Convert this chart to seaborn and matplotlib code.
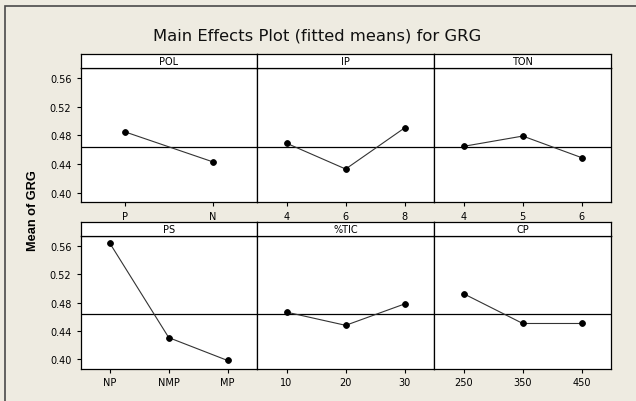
import matplotlib
matplotlib.use("Agg")
import matplotlib.pyplot as plt
from matplotlib.patches import Rectangle
import seaborn as sns
import pandas as pd

# Fitted means of GRG at each factor level
factors = ["POL", "IP", "TON", "PS", "%TIC", "CP"]
pol_levels = ["P", "N"]
pol_means = [0.485, 0.443]
ip_levels = ["4", "6", "8"]
ip_means = [0.469, 0.433, 0.4905]
ton_levels = ["4", "5", "6"]
ton_means = [0.4647, 0.479, 0.4488]
ps_levels = ["NP", "NMP", "MP"]
ps_means = [0.5636, 0.4308, 0.3986]
tic_levels = ["10", "20", "30"]
tic_means = [0.4667, 0.4481, 0.4783]
cp_levels = ["250", "350", "450"]
cp_means = [0.4925, 0.4507, 0.4507]
grand_mean = 0.4636
y_ticks = [0.40, 0.44, 0.48, 0.52, 0.56]

levels = [pol_levels, ip_levels, ton_levels, ps_levels, tic_levels, cp_levels]
means = [pol_means, ip_means, ton_means, ps_means, tic_means, cp_means]

rows = []
for f, lv, mv in zip(factors, levels, means):
    for l, m in zip(lv, mv):
        rows.append({"factor": f, "level": l, "mean": m})
df = pd.DataFrame(rows)

sns.set_style("white")
plt.rcParams["font.family"] = ["DejaVu Sans"]
plt.rcParams["text.color"] = "black"

W, H = 636, 402
bg = "#EEEBE1"
fig = plt.figure(figsize=(W / 100, H / 100), dpi=100, facecolor=bg)


def frac(x, y_top, w, h):
    return [x / W, 1 - (y_top + h) / H, w / W, h / H]


col_x = [80.5, 257.0, 434.3]
col_w = [176.5, 177.3, 177.0]
row_top = [69.3, 237.3]
row_h = [134.0, 132.7]
strip_h = 14.0
ylim = (0.3866, 0.5735)

for i, (f, lv) in enumerate(zip(factors, levels)):
    r, c = divmod(i, 3)
    ax = fig.add_axes(frac(col_x[c], row_top[r], col_w[c], row_h[r]))
    ax.set_facecolor("white")
    sub = df[df["factor"] == f]
    sns.pointplot(data=sub, x="level", y="mean", order=lv, ax=ax,
                  color="black", errorbar=None, markersize=4.2,
                  linewidth=0.8)
    for ln in ax.lines:
        ln.set_color("#333333")
        ln.set_markerfacecolor("black")
        ln.set_markeredgecolor("black")
    ax.axhline(grand_mean, color="black", linewidth=0.9, zorder=1)
    ax.set_xlim(-0.5, len(lv) - 0.5)
    ax.set_ylim(*ylim)
    ax.set_yticks(y_ticks)
    ax.set_xlabel("")
    ax.set_ylabel("")
    for s in ax.spines.values():
        s.set_color("black")
        s.set_linewidth(0.9)
    ax.tick_params(axis="x", direction="out", length=3, width=0.8,
                   pad=3, labelsize=7, colors="black", bottom=True)
    if c == 0:
        ax.set_yticklabels([f"{t:.2f}" for t in y_ticks])
        ax.tick_params(axis="y", direction="out", length=3, width=0.8,
                       pad=3.5, labelsize=7, colors="black", left=True)
    else:
        ax.tick_params(axis="y", left=False, labelleft=False)

    sax = fig.add_axes(frac(col_x[c], row_top[r] - strip_h, col_w[c], strip_h))
    sax.set_facecolor("white")
    sax.set_xticks([])
    sax.set_yticks([])
    for s in sax.spines.values():
        s.set_color("black")
        s.set_linewidth(0.9)
    sax.text(0.5, 0.5, f, ha="center", va="center", fontsize=7,
             color="black", transform=sax.transAxes)

fig.text(317.5 / W, 1 - 36 / H, "Main Effects Plot (fitted means) for GRG",
         ha="center", va="center", fontsize=11.8, color="#111111")
fig.text(33 / W, 1 - 211 / H, "Mean of GRG", rotation=90, ha="center",
         va="center", fontsize=9.2, fontweight="bold", color="black",
         family=["Liberation Sans", "DejaVu Sans"])

frame = Rectangle((4.5 / W, -0.2), 2.0, 1.2 - 7 / H, transform=fig.transFigure,
                  fill=False, edgecolor="#4a4a4a", linewidth=1.2,
                  clip_on=False)
fig.add_artist(frame)

fig.savefig("out.png", dpi=100, facecolor=bg)
